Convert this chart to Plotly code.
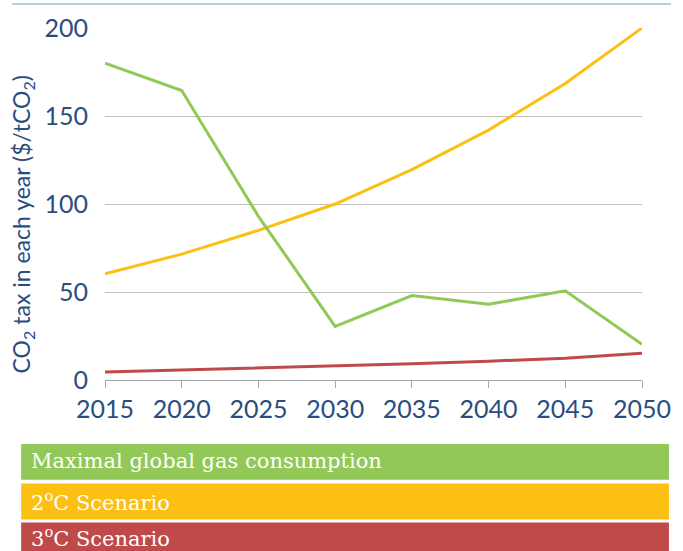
import plotly.graph_objects as go

years = [2015, 2020, 2025, 2030, 2035, 2040, 2045, 2050]
max_gas = [180, 164.5, 93, 30.5, 48, 43, 50.7, 20.3]
two_deg = [60.3, 71.5, 85, 100, 119.5, 142, 168.5, 200]
three_deg = [4.5, 5.6, 6.8, 7.9, 9.3, 10.7, 12.4, 15.2]

series_names = ["Maximal global gas consumption", "2<sup>o</sup>C Scenario", "3<sup>o</sup>C Scenario"]
series_values = [max_gas, two_deg, three_deg]
colors = ["#92c857", "#fbc012", "#c0494a"]

y_ticks = [0, 50, 100, 150, 200]
x_ticks = years

TXT = "#2a4d7f"
L, R, T, B = 105, 40, 25, 171
PW, PH = 683 - L - R, 551 - T - B


def px_x(x):
    return (x - L) / PW


def px_y(y):
    return (551 - B - y) / PH


fig = go.Figure()
# draw order: red first, then yellow, then green on top
for name, vals, col in list(zip(series_names, series_values, colors))[::-1]:
    fig.add_trace(go.Scatter(x=years, y=vals, mode="lines", name=name,
                             line=dict(color=col, width=3), showlegend=False))

fig.update_layout(
    width=683, height=551,
    margin=dict(l=L, r=R, t=T, b=B),
    paper_bgcolor="white", plot_bgcolor="white",
    font=dict(family="Lato", color=TXT),
    xaxis=dict(range=[2015, 2050], tickvals=x_ticks, ticks="outside", ticklen=7,
               tickcolor="#a6a6a6", tickwidth=1, showline=True, linecolor="#a6a6a6",
               linewidth=1, showgrid=False, zeroline=False,
               tickfont=dict(family="Lato", size=25, color=TXT)),
    yaxis=dict(range=[0, 200], tickvals=y_ticks, showgrid=True, gridcolor="#c0c0c0",
               gridwidth=1, zeroline=False, showline=False, ticks="",
               ticklabelstandoff=16,
               tickfont=dict(family="Lato", size=25, color=TXT)),
)

# y axis title
fig.add_annotation(text="CO<sub>2</sub> tax in each year ($/tCO<sub>2</sub>)",
                   xref="paper", yref="paper", x=px_x(22), y=px_y(223), textangle=-90,
                   showarrow=False, font=dict(family="Lato", size=23, color=TXT),
                   xanchor="center", yanchor="middle")

# top border line
fig.add_shape(type="line", xref="paper", yref="paper",
              x0=px_x(12), x1=px_x(672), y0=px_y(0.8), y1=px_y(0.8),
              line=dict(color="#9ec0cf", width=1.6))

# legend boxes
boxes = [(444.5, 480.7), (484.3, 520.7), (523.7, 560)]
text_offsets = [17.5, 17.5, 14.5]
for (top, bot), off, name, col in zip(boxes, text_offsets, series_names, colors):
    fig.add_shape(type="rect", xref="paper", yref="paper",
                  x0=px_x(21), x1=px_x(670), y0=px_y(bot), y1=px_y(top),
                  fillcolor=col, line=dict(width=0), layer="above")
    fig.add_annotation(text=name, xref="paper", yref="paper",
                       x=px_x(30), y=px_y(top + off), xanchor="left", yanchor="middle",
                       showarrow=False, borderpad=0,
                       font=dict(family="DejaVu Serif", size=21, color="white"))

fig.write_html("out.html", config={"displayModeBar": False},
               post_script="document.body.style.margin='0';document.body.style.padding='0';")
